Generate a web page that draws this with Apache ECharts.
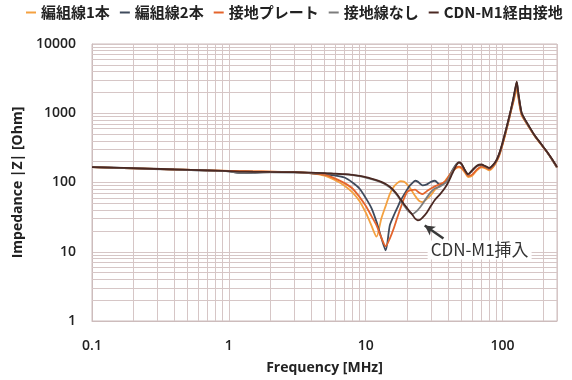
<!DOCTYPE html>
<html><head><meta charset="utf-8">
<script src="https://cdn.jsdelivr.net/npm/echarts@6/dist/echarts.min.js"></script>
<style>html,body{margin:0;padding:0;background:#fff}#c{width:572px;height:380px}</style>
</head><body><div id="c"></div>
<script>
const freq = [0.1,0.2,0.4,0.7,1,1.2,1.5,2,3,4,5,6,7,8,9,10,11,12,13,14,15,16,17,18,19,20,21,22,23,24,25,26,28,30,32,35,38,40,43,46,48,50,53,56,60,65,70,75,80,85,90,95,100,105,110,115,120,124,127,130,134,138,145,155,170,190,210,230,250];
const braid1 = [167,160,154,150,147,146,145,144,141,136,126,108,90,72,54,37,24,16.5,30,46,68,86,98,105,103,95,84,73,64,57,53,52,58,66,78,90,105,120,145,162,165,160,140,120,125,150,165,160,150,165,195,250,350,500,720,1050,1450,1900,2200,1750,1200,930,790,640,480,360,280,215,165];
const braid2 = [167,160,153,149,145,137,138,141,140,136,131,126,118,100,82,60,43,27,16,10.5,24,33,43,55,66,78,90,99,106,103,96,91,94,102,106,92,100,115,150,185,195,185,150,130,150,175,180,170,160,175,205,265,370,530,760,1100,1600,2250,2800,2000,1350,1000,820,660,490,365,280,215,165];
const plate = [167,160,154,150,147,146,145,144,141,137,130,114,98,82,62,46,33,24,16,12,15.5,21.5,31,43,58,72,77,78,79,74,70,68,75,82,88,95,103,118,145,165,170,165,145,125,130,155,170,165,155,170,200,255,355,510,740,1070,1500,2050,2400,1850,1250,950,800,650,485,362,280,215,165];
const noWire = [167,160,154,149,145,138,139,141,140,138,136,133,131,128,124,118,112,106,100,93,85,75,65,55,47,41,37,35,37,40,44,49,61,73,82,88,98,110,145,180,192,185,150,130,148,172,178,170,160,175,205,265,370,530,760,1100,1600,2200,2650,1950,1320,990,815,655,490,365,280,215,165];
const cdn = [167,161,155,150,146,144,143,142,141,139,137,134,132,129,125,120,114,108,102,95,87,77,67,57,49,43,38,34,30,28.5,29,31,37,46,56,68,84,100,135,178,195,188,152,132,150,175,182,172,162,178,208,268,375,540,780,1120,1650,2300,2850,2050,1380,1010,830,665,495,368,282,218,168];

const seriesNames = ['編組線1本','編組線2本','接地プレート','接地線なし','CDN-M1経由接地'];
const seriesValues = [braid1, braid2, plate, noWire, cdn];
const seriesColors = ['#f4a140','#3f4a5c','#e4642c','#7c7c7c','#4a2822'];

const xTicks = [0.1,1,10,100];
const xTickLabels = ['0.1','1','10','100'];
const yTicks = [1,10,100,1000,10000];
const yTickLabels = ['1','10','100','1000','10000'];
const minorMultipliers = [2,3,4,5,6,7,8,9];

const annotationText = 'CDN-M1挿入';
const arrowFrom = [37, 15.5];
const arrowTo = [27, 24];
const annotationAt = [68, 10.6];

const xMinorGrid = [];
xTicks.forEach(d => minorMultipliers.forEach(m => { const v = d*m; if (v < 250) xMinorGrid.push(v); }));
const yMinorGrid = [];
yTicks.slice(0,4).forEach(d => minorMultipliers.forEach(m => yMinorGrid.push(d*m)));

function tickFmt(ticks, labels){
  return function(v){
    for (let i=0;i<ticks.length;i++){
      if (Math.abs(Math.log10(v)-Math.log10(ticks[i]))<1e-6) return labels[i];
    }
    return '';
  };
}

const gridColor = '#d6c6c6';
const series = seriesNames.map((n,i)=>({
  name: n, type:'line', showSymbol:false, smooth:0.25,
  lineStyle:{width:1.8,color:seriesColors[i]}, itemStyle:{color:seriesColors[i]},
  z: 3+i,
  data: freq.map((f,k)=>[f, seriesValues[i][k]])
}));
series.push({
  name:'grid', type:'line', data:[], silent:true,
  markLine:{ silent:true, symbol:'none', z:1, label:{show:false},
    lineStyle:{color:gridColor,width:1,type:'solid'},
    emphasis:{disabled:true},
    data: xMinorGrid.map(v=>({xAxis:v})).concat(yMinorGrid.map(v=>({yAxis:v})))
  }
});
series[4].markLine = {
  silent:true, symbol:['none','arrow'], symbolSize:[8,10], z:10,
  label:{show:false}, lineStyle:{color:'#3a3a3a',width:2.5,type:'solid'},
  data:[[{coord:arrowFrom},{coord:arrowTo}]]
};
series[4].markPoint = {
  silent:true, symbol:'rect', symbolSize:1, itemStyle:{color:'rgba(0,0,0,0)'}, z:10,
  label:{show:true, formatter:annotationText, color:'#333', fontSize:17,
    fontFamily:'"Noto Sans CJK JP", "Open Sans", sans-serif',
    backgroundColor:'#fff', padding:[1,3]},
  data:[{coord:annotationAt}]
};

const chart = echarts.init(document.getElementById('c'), null, {renderer:'canvas'});
chart.setOption({
  animation:false,
  color: seriesColors,
  legend:{
    data: seriesNames.map(n=>({name:n, icon:'rect'})),
    left: 26, top: 5, itemWidth:10, itemHeight:2, itemGap:10, padding:0,
    textStyle:{fontSize:15, fontWeight:'bold', color:'#222', fontFamily:'"Noto Sans CJK JP", sans-serif'}
  },
  grid:{left:92,right:15,top:44,bottom:57,show:true,borderColor:'#cdbcbc',borderWidth:1},
  xAxis:{
    type:'log', logBase:10, min:0.1, max:250,
    name:'Frequency [MHz]', nameLocation:'middle', nameGap:40,
    nameTextStyle:{fontSize:14,fontWeight:'bold',color:'#222',fontFamily:'"Open Sans", sans-serif'},
    axisLine:{show:true,lineStyle:{color:'#cdbcbc'}}, axisTick:{show:false},
    axisLabel:{formatter:tickFmt(xTicks,xTickLabels), margin:18, fontSize:14, fontWeight:600, color:'#222', fontFamily:'"Open Sans", sans-serif', showMaxLabel:false},
    splitLine:{show:true,lineStyle:{color:gridColor,width:1}}
  },
  yAxis:{
    type:'log', logBase:10, min:1, max:10000,
    name:'Impedance |Z| [Ohm]', nameLocation:'middle', nameGap:55,
    nameTextStyle:{fontSize:14,fontWeight:'bold',color:'#222',fontFamily:'"Open Sans", sans-serif'},
    axisLine:{show:true,lineStyle:{color:'#cdbcbc'}}, axisTick:{show:false},
    axisLabel:{formatter:tickFmt(yTicks,yTickLabels), margin:16, fontSize:14, fontWeight:600, color:'#222', fontFamily:'"Open Sans", sans-serif'},
    splitLine:{show:true,lineStyle:{color:gridColor,width:1}}
  },
  series: series
});
</script></body></html>
